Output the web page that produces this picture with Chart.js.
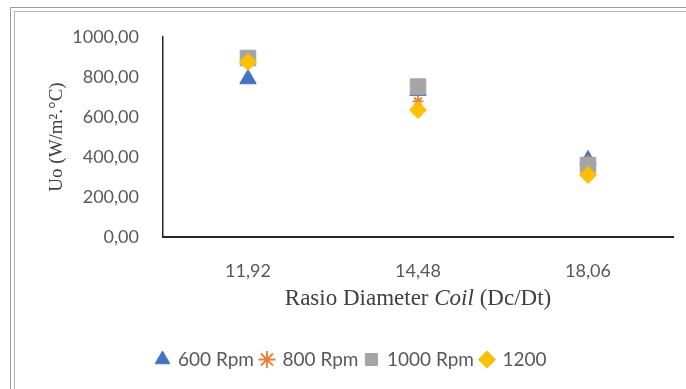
<!DOCTYPE html>
<html lang="en">
<head>
  <meta charset="UTF-8">
  <title>Rasio Diameter Coil vs Uo</title>
  <script src="https://cdn.jsdelivr.net/npm/chart.js"></script>
  <style>
    body {
      margin: 0;
      padding: 0;
      background: #ffffff;
    }
    .frame {
      position: absolute;
      left: 10px;
      top: 7px;
      width: 700px;
      height: 400px;
      border-top: 1px solid #9a9a9a;
      border-left: 1px solid #9a9a9a;
    }
    .frame-inner {
      position: absolute;
      left: 3px;
      top: 3px;
      width: 700px;
      height: 400px;
      border-top: 1px solid #b4b4b4;
      border-left: 1px solid #b4b4b4;
    }
    .chart-box {
      position: absolute;
      left: 0;
      top: 0;
      width: 686px;
      height: 389px;
    }
  </style>
</head>
<body>
  <div class="frame"><div class="frame-inner"></div></div>
  <div class="chart-box">
    <canvas id="uoChart" width="686" height="389"></canvas>
  </div>

  <script>
    // data
    const ratios = ["11,92", "14,48", "18,06"];
    const rpm600 = [790, 732, 385];
    const rpm800 = [870, 678, 382];
    const rpm1000 = [895, 752, 360];
    const rpm1200 = [875, 635, 310];
    const seriesNames = ["600 Rpm", "800 Rpm", "1000 Rpm", "1200"];
    const yTitle = "Uo (W/m².°C)";
    const xTitleParts = [["Rasio Diameter ", "normal"], ["Coil", "italic"], [" (Dc/Dt)", "normal"]];

    const sansFont = "Lato, 'Liberation Sans', sans-serif";
    const serifFont = "'Liberation Serif', 'DejaVu Serif', serif";

    // x axis title has an italic word, so draw it by hand
    let xTitleWidths = [];
    const xTitlePlugin = {
      id: "xTitle",
      afterDraw(chart) {
        const ctx = chart.ctx;
        const area = chart.chartArea;
        ctx.save();
        ctx.fillStyle = "#404040";
        ctx.textBaseline = "middle";
        let total = 0;
        xTitleWidths = xTitleParts.map(([txt, style]) => {
          ctx.font = style + " 23px " + serifFont;
          const w = ctx.measureText(txt).width;
          total += w;
          return w;
        });
        let x = (area.left + area.right) / 2 - total / 2;
        xTitleParts.forEach(([txt, style], i) => {
          ctx.font = style + " 23px " + serifFont;
          ctx.fillText(txt, x, 299);
          x += xTitleWidths[i];
        });
        ctx.restore();
      }
    };

    // nudge the legend a little to the right like the original
    const legendShift = {
      id: "legendShift",
      afterLayout(chart) {
        if (chart.legend) {
          chart.legend.left += 8;
          chart.legend.right += 8;
        }
      }
    };

    new Chart(document.getElementById("uoChart"), {
      type: "line",
      data: {
        labels: ratios,
        datasets: [
          { label: seriesNames[0], data: rpm600, pointStyle: "triangle", pointRadius: 9.5,
            backgroundColor: "#4472C4", borderColor: "#4472C4", borderWidth: 1, order: 3 },
          { label: seriesNames[1], data: rpm800, pointStyle: "star", pointRadius: 5.5,
            backgroundColor: "#ED7D31", borderColor: "#ED7D31", borderWidth: 1.8, order: 2 },
          { label: seriesNames[2], data: rpm1000, pointStyle: "rect", pointRadius: 11,
            backgroundColor: "#A5A5A5", borderColor: "#A5A5A5", borderWidth: 1, order: 1 },
          { label: seriesNames[3], data: rpm1200, pointStyle: "rectRot", pointRadius: 8.5,
            backgroundColor: "#FFC000", borderColor: "#FFC000", borderWidth: 1, order: 0 }
        ]
      },
      options: {
        responsive: false,
        animation: false,
        showLine: false,
        layout: { padding: { left: 14, top: 37, right: 13, bottom: 10 } },
        plugins: {
          tooltip: { enabled: false },
          legend: {
            position: "bottom",
            reverse: true,
            labels: {
              usePointStyle: true,
              boxWidth: 12,
              boxHeight: 12,
              padding: 7,
              color: "#595959",
              font: { family: sansFont, size: 19 }
            }
          }
        },
        scales: {
          x: {
            offset: true,
            grid: { display: false },
            border: { display: true, color: "#262626", width: 2 },
            ticks: { color: "#595959", padding: 15, font: { family: sansFont, size: 18 } },
            afterFit(scale) { scale.height = 106; }
          },
          y: {
            min: 0,
            max: 1000,
            grid: { display: false },
            border: { display: true, color: "#262626", width: 1.5 },
            ticks: {
              stepSize: 200,
              padding: 16,
              color: "#595959",
              font: { family: sansFont, size: 18 },
              callback: v => v.toFixed(2).replace(".", ",")
            },
            title: {
              display: true,
              text: yTitle,
              color: "#404040",
              padding: { top: 32, bottom: 0 },
              font: { family: serifFont, size: 19 }
            },
            afterFit(scale) { scale.width = 149; }
          }
        }
      },
      plugins: [xTitlePlugin, legendShift]
    });
  </script>
</body>
</html>
